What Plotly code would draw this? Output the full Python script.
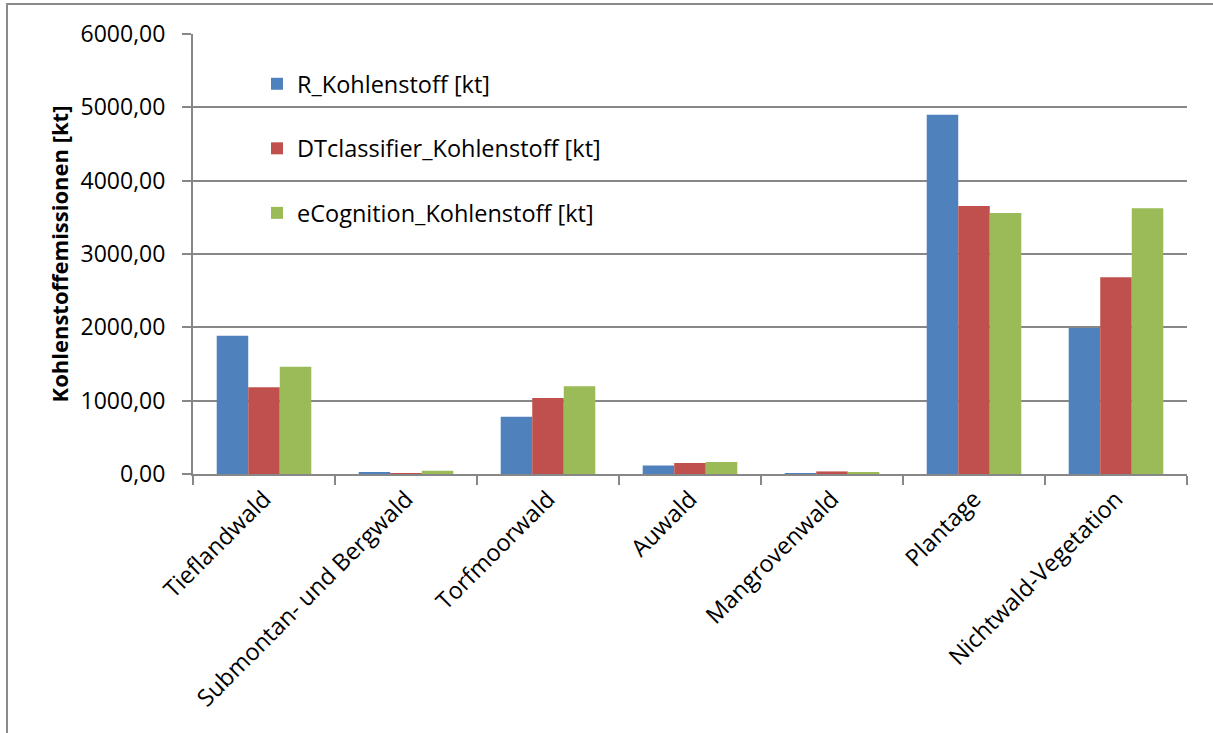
import plotly.graph_objects as go

categories = ["Tieflandwald", "Submontan- und Bergwald", "Torfmoorwald", "Auwald",
              "Mangrovenwald", "Plantage", "Nichtwald-Vegetation"]
r_values = [1886, 14, 780, 115, 3, 4900, 1991]
dt_values = [1182, 10, 1036, 150, 35, 3655, 2682]
ecog_values = [1463, 45, 1195, 165, 25, 3559, 3623]
series_names = ["R_Kohlenstoff [kt]", "DTclassifier_Kohlenstoff [kt]", "eCognition_Kohlenstoff [kt]"]
series_colors = ["#4F81BD", "#C0504D", "#9BBB59"]
y_ticks = [0, 1000, 2000, 3000, 4000, 5000, 6000]

FONT = "Open Sans"
GRID = "#878787"

fig = go.Figure()
for name, vals, col in zip(series_names, [r_values, dt_values, ecog_values], series_colors):
    fig.add_trace(go.Bar(x=categories, y=vals, name=name, marker_color=col,
                         marker_line_width=0, legendgroup=name))

W, H = 1213, 733
L, R, T, B = 193, 26, 34, 259
pw, ph = W - L - R, H - T - B

def px_x(p):
    return (p - L) / pw

def px_y(p):
    return (H - B - p) / ph

fig.update_layout(
    width=W, height=H,
    margin=dict(l=L, r=R, t=T, b=B, autoexpand=False),
    paper_bgcolor="white", plot_bgcolor="white",
    separators=",.",
    font=dict(family=FONT, size=23, color="black"),
    barmode="group", bargap=0.334, bargroupgap=0,
    showlegend=True,
    legend=dict(x=px_x(257), y=px_y(62), xanchor="left", yanchor="top",
                bgcolor="rgba(0,0,0,0)", font=dict(family=FONT, size=23.5),
                traceorder="grouped", tracegroupgap=31, itemclick=False),
    xaxis=dict(showline=True, linecolor=GRID, linewidth=2, ticks="outside",
               tickson="boundaries", ticklen=9, tickwidth=2, tickcolor=GRID,
               tickangle=-45, tickfont=dict(family=FONT, size=23.5), showgrid=False,
               automargin=False),
    yaxis=dict(range=[0, 6000], tickvals=y_ticks, tickformat=".2f",
               showgrid=True, gridcolor=GRID, gridwidth=2, zeroline=False,
               showline=True, linecolor=GRID, linewidth=2, ticks="outside",
               ticklen=9, tickwidth=2, tickcolor=GRID, ticklabelstandoff=12,
               tickfont=dict(family=FONT, size=23), automargin=False,
               title=dict(text="<b>Kohlenstoffemissionen [kt]</b>",
                          font=dict(family=FONT, size=22), standoff=6)),
    shapes=[
        dict(type="rect", xref="paper", yref="paper", layer="between",
             x0=px_x(232), x1=px_x(608), y0=px_y(240), y1=px_y(36),
             fillcolor="white", line=dict(width=0)),
        dict(type="rect", xref="paper", yref="paper", layer="above",
             x0=px_x(7), x1=px_x(1230), y0=px_y(750), y1=px_y(4),
             fillcolor="rgba(0,0,0,0)", line=dict(color="#8a8a8a", width=2)),
    ],
)

fig.write_html("out.html")
